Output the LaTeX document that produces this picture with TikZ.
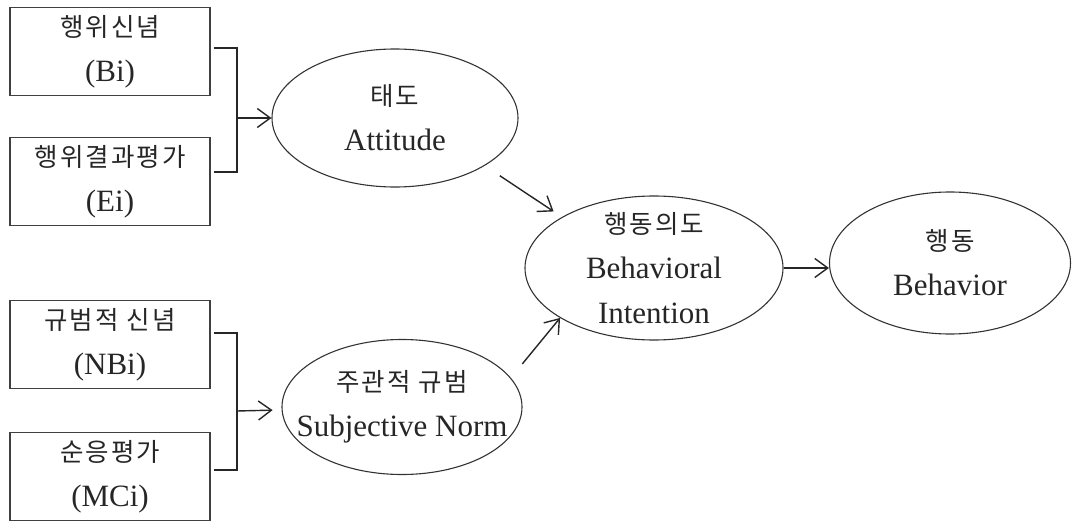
\documentclass[tikz,border=0pt]{standalone}
\usepackage{fontspec}
\setmainfont{Liberation Serif}
\newfontfamily\krfont[LetterSpace=8]{Noto Sans CJK KR}
\usetikzlibrary{arrows.meta, shapes.geometric}
\newcommand{\kor}[1]{{\krfont\fontsize{25.5}{45}\selectfont #1}}

\begin{document}
\begin{tikzpicture}[
  x=1pt, y=-1pt,
  font=\fontsize{31}{45}\selectfont,
  factor/.style={draw=black!75, line width=1.3pt, minimum width=200pt,
                 minimum height=88pt, align=center, text=black!85},
  oval/.style={draw=black!80, ellipse, line width=1.1pt, inner sep=0pt},
  txt/.style={align=center, text=black!85},
  link/.style={line width=1.4pt, black!85},
  flow/.style={-{Straight Barb[length=13pt, width=19pt]}, line width=1.4pt, black!85}
]
  \useasboundingbox (0,0) rectangle (1072,522);

  % belief / evaluation boxes
  \node[factor] (belief)  at (110,51.5)  {\kor{행위신념}\\(Bi)};
  \node[factor] (evalu)   at (110,181.5) {\kor{행위결과평가}\\(Ei)};
  \node[factor] (nbelief) at (110,344.5) {\kor{규범적 신념}\\(NBi)};
  \node[factor] (motiv)   at (110,476.5) {\kor{순응평가}\\(MCi)};

  % constructs
  \node[oval, minimum width=246pt, minimum height=138pt] (att) at (395,118) {};
  \node[txt] (att-t) at (att) {\kor{태도}\\Attitude};
  \node[oval, minimum width=240pt, minimum height=135pt] (sn) at (402,407) {};
  \node[txt] (sn-t) at (sn) {\kor{주관적 규범}\\Subjective Norm};
  \node[oval, minimum width=258pt, minimum height=144pt] (intent) at (654,268) {};
  \node[txt] (intent-t) at (intent) {\kor{행동의도}\\Behavioral\\Intention};
  \node[oval, minimum width=241pt, minimum height=142pt] (beh) at (950,263) {};
  \node[txt] (beh-t) at (beh) {\kor{행동}\\Behavior};

  \coordinate (j1) at (237,118);
  \coordinate (j2) at (237,411);

  \draw[link] ([xshift=3pt,yshift=3.5pt]belief.east) -| (j1)
              |- ([xshift=3pt,yshift=9.5pt]evalu.east);
  \draw[flow] (j1) -- (att);
  \draw[link] ([xshift=3pt,yshift=11.5pt]nbelief.east) -| (j2)
              |- ([xshift=3pt,yshift=6.5pt]motiv.east);
  \draw[flow, shorten >=9pt] (j2) -- (sn);

  \draw[flow, shorten <=18pt, shorten >=10pt] (att.-28) -- (intent.151);
  \draw[flow, shorten <=18pt] (sn.15) -- (intent.208);
  \draw[flow] (intent.east) -- (intent.east -| beh.west);
\end{tikzpicture}
\end{document}
